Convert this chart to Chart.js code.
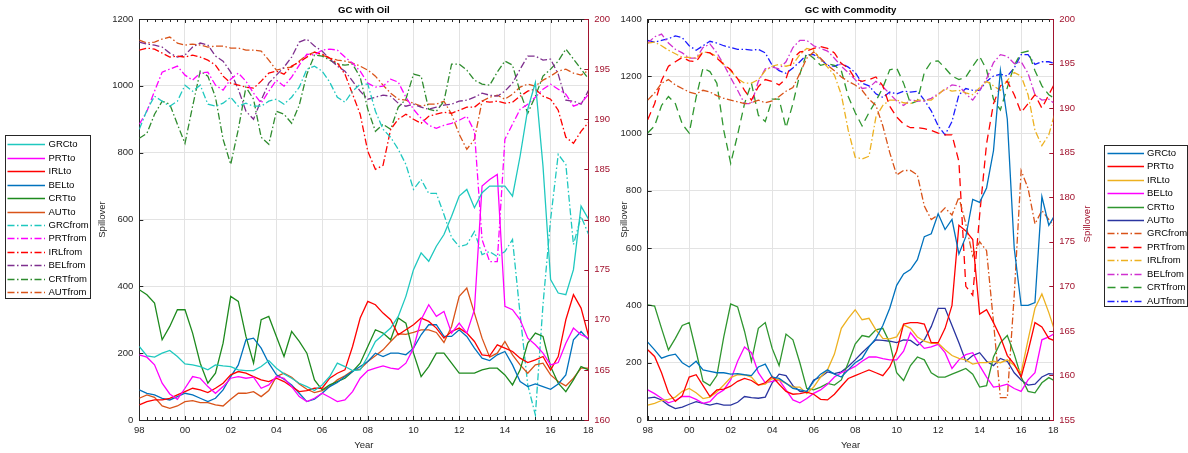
<!DOCTYPE html>
<html>
<head>
<meta charset="utf-8">
<title>GC spillovers</title>
<script src="https://cdn.jsdelivr.net/npm/chart.js@4.4.1/dist/chart.umd.min.js"></script>
<style>
  html, body { margin: 0; padding: 0; background: #fff; }
  #wrap { position: relative; width: 1188px; height: 453px; overflow: hidden; }
  canvas { position: absolute; top: 0; }
  #oil { left: 0; }
  #com { left: 608px; }
</style>
</head>
<body>
<div id="wrap">
  <canvas id="oil" width="620" height="453"></canvas>
  <canvas id="com" width="580" height="453"></canvas>
</div>
<script>
// Sampling dates: one value every four months, Jan 1998 onwards
const years = Array.from({ length: 60 }, (_, i) => 1998 + i / 3);
const yearTicks = [1998, 2000, 2002, 2004, 2006, 2008, 2010, 2012, 2014, 2016];
const series = ['GRC', 'PRT', 'IRL', 'BEL', 'CRT', 'AUT'];

// ---- GC with Oil: "to" spillovers (left axis) ----
const oilGRCto = [220,192,188,200,208,190,168,165,160,150,165,162,160,150,148,148,160,178,155,138,125,110,100,88,105,130,170,160,148,150,190,235,255,275,310,370,450,500,475,520,555,610,670,690,635,680,700,700,700,670,790,930,1010,760,420,380,375,450,640,600];
const oilPRTto = [195,188,165,110,78,62,95,130,125,100,80,100,125,130,125,128,95,105,130,125,100,70,55,65,80,68,55,60,85,125,148,155,162,155,152,170,215,300,345,310,325,260,290,260,330,700,720,735,340,330,300,245,225,200,165,172,230,275,255,245];
const oilIRLto = [45,55,60,60,65,75,85,95,90,82,95,110,135,145,140,130,120,115,125,115,100,85,88,95,95,125,140,150,220,305,355,345,320,300,255,270,285,305,295,275,245,265,275,260,235,195,192,225,215,205,185,172,180,190,150,190,300,375,335,250];
const oilBELto = [90,80,75,65,60,70,80,75,65,55,65,90,130,165,240,245,215,170,135,122,105,80,55,62,80,100,112,130,145,160,175,200,190,200,200,195,215,255,285,285,250,250,270,250,215,185,178,195,205,165,115,100,108,100,92,108,135,240,265,240];
const oilCRTto = [390,375,350,240,280,330,330,260,170,110,140,230,370,355,250,170,300,310,250,190,265,235,200,120,90,105,115,125,145,170,220,270,260,240,305,290,200,130,160,200,200,170,140,140,140,150,155,155,135,105,150,230,260,250,160,110,85,120,160,150];
const oilAUTto = [65,75,68,42,35,42,55,58,52,52,45,42,62,80,80,85,70,88,130,140,128,108,92,82,88,100,120,132,148,152,175,192,210,235,258,256,262,270,270,262,232,280,370,395,320,245,188,200,235,195,165,140,165,170,135,115,102,125,155,155];

// ---- GC with Oil: "from" spillovers (right axis) ----
const oilGRCfrom = [189.0,190.9,192.3,191.8,191.3,191.8,193.4,192.8,193.4,191.5,191.3,191.6,192.2,191.3,191.6,191.3,191.3,191.8,192.0,191.5,192.2,193.2,195.0,195.3,194.8,193.7,192.2,191.7,192.8,193.5,193.5,190.8,189.0,188.2,187.0,185.5,183.0,184.0,182.6,182.6,180.5,178.2,177.3,177.5,178.8,176.5,176.8,176.3,176.8,178.0,170.5,163.5,160.5,171.5,180.0,186.5,185.5,177.5,180.3,178.5];
const oilPRTfrom = [189.5,190.8,192.8,194.7,195.0,195.3,194.4,193.9,194.6,194.7,193.4,192.9,194.0,194.6,193.8,192.6,191.6,192.8,193.9,193.3,194.2,195.4,196.5,196.4,196.9,197.0,196.9,196.2,195.6,194.8,193.6,193.2,193.3,194.0,193.7,192.2,191.0,190.1,189.4,189.1,189.4,189.6,189.9,190.3,188.8,178.0,175.8,175.8,188.0,189.5,191.0,191.5,192.2,193.0,193.5,193.0,192.5,191.3,191.6,192.5];
const oilIRLfrom = [196.9,197.1,197.0,196.6,196.2,196.3,196.2,196.4,196.2,195.9,195.4,194.3,193.6,193.4,193.2,193.1,193.8,194.6,194.8,194.5,195.3,195.7,196.2,196.7,196.5,196.1,195.6,194.5,192.5,190.5,186.8,185.0,185.4,189.0,190.0,190.5,190.0,189.6,190.3,190.5,190.7,190.6,190.9,191.2,191.2,191.8,191.7,191.8,191.6,191.7,192.3,192.8,193.0,192.3,192.0,190.9,188.2,187.6,188.8,189.7];
const oilBELfrom = [197.7,197.5,197.4,197.2,196.6,196.2,196.4,197.2,197.6,197.4,196.3,195.8,194.7,193.0,190.8,190.0,191.9,193.6,194.4,195.2,196.2,197.7,198.0,197.3,196.8,196.0,195.3,194.8,193.8,192.8,192.0,192.2,192.4,192.3,191.6,191.3,191.5,191.2,191.0,191.2,191.4,191.5,191.8,191.9,192.2,192.6,192.4,192.3,192.8,193.6,195.0,196.3,196.3,195.9,196.0,194.5,191.9,191.8,191.5,192.9];
const oilCRTfrom = [188.1,188.6,190.5,191.8,191.5,189.5,187.6,191.3,194.8,194.3,192.2,188.0,185.5,189.0,193.2,192.0,188.2,187.5,190.8,190.5,189.6,191.4,194.5,196.4,196.3,195.9,195.5,195.4,195.5,194.2,191.0,188.8,189.5,189.0,191.2,192.0,194.5,194.3,191.0,190.8,191.8,195.5,195.5,194.9,193.9,193.5,193.4,194.7,195.8,195.4,192.7,190.6,192.3,194.3,195.0,195.8,197.0,196.0,195.0,194.0];
const oilAUTfrom = [197.9,197.6,197.7,198.0,198.2,197.6,197.4,197.5,197.4,197.2,197.3,197.3,197.1,197.1,196.9,196.9,196.8,195.9,194.9,195.1,195.2,195.8,196.4,196.7,196.4,196.1,195.9,195.8,195.6,195.3,194.9,194.3,193.4,192.6,192.0,191.9,191.6,191.3,191.5,191.5,191.8,190.5,188.5,187.0,188.0,191.8,192.2,192.4,192.0,192.5,193.2,193.5,193.3,193.9,194.3,194.8,195.0,194.6,194.4,194.9];

// ---- GC with Commodity: "to" spillovers (left axis) ----
const comGRCto = [272,245,216,225,230,200,185,205,175,170,165,165,160,162,158,155,185,195,150,145,128,110,105,100,135,160,175,160,150,175,200,215,255,285,330,390,470,510,525,560,640,650,720,665,700,580,640,770,760,810,940,1220,1050,600,400,400,410,780,680,720];
const comPRTto = [245,222,165,95,65,85,150,158,120,82,105,108,118,135,145,138,122,130,152,125,100,90,92,97,90,72,70,90,118,145,155,165,175,165,155,185,240,335,340,340,335,270,270,320,400,680,660,630,370,385,340,290,225,195,150,240,340,325,285,275];
const comIRLto = [52,58,68,72,80,100,110,95,75,80,98,122,148,158,158,150,122,125,145,140,128,115,115,92,115,150,175,230,320,355,385,350,355,315,285,283,290,332,320,290,275,268,268,245,225,215,210,195,200,200,205,200,210,190,165,280,390,440,375,300];
const comBELto = [105,92,76,60,68,82,82,72,58,64,90,105,140,205,255,235,165,130,135,140,105,70,60,75,93,105,125,150,165,175,187,205,220,220,214,210,210,240,305,275,250,255,264,235,180,210,228,235,190,150,115,118,125,110,100,140,165,280,290,305];
const comCRTto = [402,398,320,245,285,330,340,240,135,120,155,290,405,395,310,205,320,340,250,190,300,280,200,110,105,115,128,122,140,200,265,295,290,315,320,270,165,138,190,220,210,165,150,150,160,170,180,160,115,120,220,270,295,230,150,100,95,130,148,135];
const comAUTto = [76,80,70,52,40,45,55,64,58,52,58,52,52,62,82,78,76,80,130,160,155,120,100,98,140,150,168,162,168,187,210,235,258,280,278,275,270,280,278,260,280,326,390,390,330,270,205,225,235,205,190,215,205,165,140,122,125,150,162,160];

// ---- GC with Commodity: "from" spillovers (right axis) ----
const comGRCfrom = [190.9,191.7,192.8,193.2,192.6,192.2,191.8,191.6,192.0,191.8,191.4,191.1,190.9,190.7,190.5,190.6,190.9,190.6,190.8,191.3,191.9,192.3,193.9,195.6,196.3,195.6,194.8,194.2,193.5,193.0,192.6,192.0,191.0,190.3,188.0,185.0,182.5,183.0,183.0,182.5,179.0,177.5,178.0,178.8,178.0,180.0,177.0,173.4,175.0,174.0,166.0,157.5,157.5,169.0,183.0,181.0,177.0,178.5,177.5,176.5];
const comPRTfrom = [188.7,190.5,193.1,194.7,195.2,195.7,195.3,195.2,196.3,196.2,195.6,194.9,194.3,193.3,192.0,190.9,192.4,193.2,193.0,192.6,193.3,195.6,196.3,196.4,196.7,196.9,196.7,196.2,195.0,194.5,193.3,193.0,193.2,193.5,192.5,190.2,189.0,188.2,187.8,187.8,187.7,187.5,187.2,187.0,187.0,184.0,170.0,169.0,178.0,186.0,190.5,192.5,193.0,191.5,189.5,190.5,191.5,190.0,191.5,193.0];
const comIRLfrom = [197.3,197.4,197.0,196.5,196.1,195.7,195.7,195.6,196.3,196.2,195.8,194.9,194.2,193.3,192.8,192.8,193.2,194.2,194.7,194.9,194.7,194.9,196.0,196.7,196.5,195.4,194.6,193.7,191.5,187.5,184.5,184.3,184.6,189.0,190.3,190.9,190.9,190.6,190.5,190.9,190.9,190.9,191.5,192.2,191.9,192.0,191.7,191.5,192.3,193.0,192.5,192.0,193.1,194.0,193.6,191.5,187.5,185.8,187.0,189.8];
const comBELfrom = [197.3,198.0,198.3,197.3,196.6,196.2,195.6,195.6,196.8,197.2,196.2,194.9,193.4,192.0,190.5,190.5,193.0,194.4,194.6,194.4,195.2,196.8,197.6,197.6,197.0,196.7,196.4,195.6,194.7,194.0,193.2,192.2,192.3,193.0,192.4,191.6,190.8,190.3,190.9,190.8,190.8,191.1,191.6,192.1,192.6,192.5,191.6,190.9,192.0,193.3,195.1,196.0,195.8,195.0,195.2,193.9,191.5,190.9,191.0,190.4];
const comCRTfrom = [187.2,188.0,190.3,191.3,190.5,188.2,187.2,191.2,194.5,194.1,192.8,187.5,183.8,187.0,190.5,192.8,189.2,188.5,191.0,191.0,187.8,190.5,193.8,196.2,195.6,194.8,195.0,194.8,194.2,191.3,189.5,188.0,189.5,190.8,192.3,194.3,194.5,192.8,190.5,190.8,194.0,195.2,195.3,194.5,193.6,193.2,193.5,194.7,195.8,194.3,191.0,189.8,192.3,194.8,196.2,196.4,194.2,192.5,191.5,191.0];
const comAUTfrom = [197.6,197.4,197.6,197.8,198.1,197.9,197.0,196.5,197.0,197.5,197.3,197.0,196.8,196.6,196.6,196.5,196.6,196.2,194.8,194.2,193.9,194.5,195.2,196.0,196.0,195.5,194.8,194.7,195.0,194.6,194.0,192.8,192.5,191.6,191.2,191.8,191.6,191.9,191.8,191.9,190.9,189.7,188.0,187.0,188.5,191.5,192.2,192.0,192.0,193.0,193.6,193.8,193.6,194.5,196.0,196.0,194.9,195.2,195.2,195.0];

const FONT = '"Liberation Sans", Arial, Helvetica, sans-serif';
const TXT = '#262626';
const AXIS2 = '#A2142F';
const GRID = '#e3e3e3';
const DASHDOT = [7, 2.5, 1.5, 2.5];
const DASHED = [8, 5];
const SOLID = [];

function line(label, values, color, axis, dash) {
  return {
    label,
    data: values.map((v, i) => ({ x: years[i], y: v })),
    borderColor: color,
    backgroundColor: color,
    borderWidth: 1.3,
    borderDash: dash,
    yAxisID: axis,
    pointRadius: 0,
    pointHoverRadius: 0,
    tension: 0,
    fill: false
  };
}

// axis frame, inward ticks, panel title, boxed legend, right-hand axis title
const panelDecor = {
  id: 'panelDecor',
  afterDatasetsDraw(chart, args, o) {
    const { ctx, chartArea: a, scales } = chart;
    const xs = scales.x, yl = scales.y, yr = scales.y1;
    ctx.save();
    ctx.lineWidth = 1;
    ctx.setLineDash([]);
    // top frame edge
    ctx.strokeStyle = TXT;
    ctx.beginPath();
    ctx.moveTo(a.left, Math.round(a.top) + 0.5);
    ctx.lineTo(a.right, Math.round(a.top) + 0.5);
    ctx.stroke();
    // x ticks every four months (bottom and top edges)
    ctx.beginPath();
    for (let k = 0; ; k++) {
      const v = 1998 + k / 3;
      if (v > xs.max + 1e-6) break;
      const px = Math.round(xs.getPixelForValue(v)) + 0.5;
      const len = (k % 6 === 0) ? 4 : 3;
      ctx.moveTo(px, a.bottom); ctx.lineTo(px, a.bottom - len);
      ctx.moveTo(px, a.top); ctx.lineTo(px, a.top + len);
    }
    // left-axis ticks
    yl.ticks.forEach(t => {
      const py = Math.round(yl.getPixelForValue(t.value)) + 0.5;
      ctx.moveTo(a.left, py); ctx.lineTo(a.left + 4, py);
    });
    ctx.stroke();
    // right-axis ticks
    ctx.strokeStyle = AXIS2;
    ctx.beginPath();
    yr.ticks.forEach(t => {
      const py = Math.round(yr.getPixelForValue(t.value)) + 0.5;
      ctx.moveTo(a.right, py); ctx.lineTo(a.right - 4, py);
    });
    ctx.stroke();
    ctx.restore();
  },
  afterDraw(chart, args, o) {
    const { ctx, chartArea: a } = chart;
    ctx.save();
    // panel title
    ctx.fillStyle = '#000';
    ctx.font = 'bold 9.6px ' + FONT;
    ctx.textAlign = 'center';
    ctx.textBaseline = 'middle';
    ctx.fillText(o.title, (a.left + a.right) / 2, 10.5);
    // right axis title
    if (o.rightTitle) {
      ctx.save();
      ctx.translate(o.rightTitle.x, o.rightTitle.y);
      ctx.rotate(-Math.PI / 2);
      ctx.fillStyle = AXIS2;
      ctx.font = '9.6px ' + FONT;
      ctx.fillText(o.rightTitle.text, 0, 0);
      ctx.restore();
    }
    // legend box
    const L = o.legend;
    ctx.fillStyle = '#fff';
    ctx.fillRect(L.x, L.y, L.w, L.h);
    ctx.strokeStyle = TXT;
    ctx.lineWidth = 1;
    ctx.setLineDash([]);
    ctx.strokeRect(L.x + 0.5, L.y + 0.5, L.w - 1, L.h - 1);
    ctx.font = '9.5px ' + FONT;
    ctx.textAlign = 'left';
    ctx.textBaseline = 'middle';
    chart.data.datasets.forEach((ds, i) => {
      const y = Math.round(L.first + i * L.step) + 0.5;
      ctx.strokeStyle = ds.borderColor;
      ctx.lineWidth = ds.borderWidth;
      ctx.setLineDash(ds.borderDash || []);
      ctx.beginPath();
      ctx.moveTo(L.x0, y);
      ctx.lineTo(L.x1, y);
      ctx.stroke();
      ctx.fillStyle = '#000';
      ctx.fillText(ds.label, L.tx, y);
    });
    ctx.restore();
  }
};

function scaleSet(cfg) {
  const tickFont = { family: FONT, size: 9.5 };
  return {
    x: {
      type: 'linear', min: 1998, max: cfg.xMax,
      afterBuildTicks: s => { s.ticks = yearTicks.concat([cfg.xMax]).map(v => ({ value: v })); },
      afterFit: s => { s.height = 33; },
      ticks: {
        autoSkip: false, maxRotation: 0, padding: 5, color: TXT, font: tickFont,
        callback: v => (v > cfg.xMax - 0.01 ? '18' : String(Math.round(v) % 100).padStart(2, '0'))
      },
      grid: { color: GRID, drawTicks: false },
      border: { color: TXT, width: 1 },
      title: { display: true, text: 'Year', color: TXT, font: tickFont, padding: { top: 0, bottom: 1.5 } }
    },
    y: {
      position: 'left', min: 0, max: cfg.yMax,
      afterFit: s => { s.width = cfg.leftW; },
      ticks: { stepSize: 200, padding: 6, color: TXT, font: tickFont, callback: v => String(v) },
      grid: { color: GRID, drawTicks: false },
      border: { color: TXT, width: 1 },
      title: { display: true, text: 'Spillover', color: TXT, font: tickFont, padding: { top: cfg.leftTitlePad, bottom: 0 } }
    },
    y1: {
      position: 'right', min: cfg.y1Min, max: 200,
      afterFit: s => { s.width = cfg.rightW; },
      ticks: { stepSize: 5, padding: 6, color: AXIS2, font: tickFont, callback: v => String(v) },
      grid: { display: false, drawTicks: false },
      border: { color: AXIS2, width: 1 }
    }
  };
}

function makeChart(id, datasets, cfg) {
  return new Chart(document.getElementById(id), {
    type: 'line',
    data: { datasets },
    options: {
      responsive: false,
      animation: false,
      events: [],
      layout: { padding: cfg.padding },
      plugins: {
        legend: { display: false },
        tooltip: { enabled: false },
        panelDecor: cfg.decor
      },
      scales: scaleSet(cfg)
    },
    plugins: [panelDecor]
  });
}

// GC with Oil
const oilColors = ['#1FC8BF', '#FF00FF', '#FF0000', '#0072BD', '#1E8A1E', '#D95319'];
const oilFromColors = ['#1FC8BF', '#FF00FF', '#FF0000', '#7E2F8E', '#2E8B2E', '#D95319'];
const oilTo = [oilGRCto, oilPRTto, oilIRLto, oilBELto, oilCRTto, oilAUTto];
const oilFrom = [oilGRCfrom, oilPRTfrom, oilIRLfrom, oilBELfrom, oilCRTfrom, oilAUTfrom];
const oilSets = series.map((c, i) => line(c + 'to', oilTo[i], oilColors[i], 'y', SOLID))
  .concat(series.map((c, i) => line(c + 'from', oilFrom[i], oilFromColors[i], 'y1', DASHDOT)));

makeChart('oil', oilSets, {
  xMax: 2017.65, yMax: 1200, y1Min: 160,
  leftW: 44.3, rightW: 31.7, leftTitlePad: 2,
  padding: { left: 95, right: 0, top: 19, bottom: 0 },
  decor: {
    title: 'GC with Oil',
    legend: { x: 5, y: 135, w: 86, h: 164, x0: 7.5, x1: 45, tx: 48.5, first: 144.3, step: 13.45 }
  }
});

// GC with Commodity
const comColors = ['#0072BD', '#FF0000', '#EDB120', '#FF00FF', '#2F962F', '#2B35A0'];
const comFromColors = ['#D95319', '#FF0000', '#EDB120', '#D030D0', '#2F962F', '#1A1AFF'];
const comFromDash = [DASHDOT, DASHED, DASHDOT, DASHDOT, DASHED, DASHDOT];
const comTo = [comGRCto, comPRTto, comIRLto, comBELto, comCRTto, comAUTto];
const comFrom = [comGRCfrom, comPRTfrom, comIRLfrom, comBELfrom, comCRTfrom, comAUTfrom];
const comSets = series.map((c, i) => line(c + 'to', comTo[i], comColors[i], 'y', SOLID))
  .concat(series.map((c, i) => line(c + 'from', comFrom[i], comFromColors[i], 'y1', comFromDash[i])));

makeChart('com', comSets, {
  xMax: 2017.55, yMax: 1400, y1Min: 155,
  leftW: 39.7, rightW: 45, leftTitlePad: 11,
  padding: { left: 0, right: 89.7, top: 19, bottom: 0 },
  decor: {
    title: 'GC with Commodity',
    rightTitle: { text: 'Spillover', x: 479, y: 224 },
    legend: { x: 496, y: 145, w: 84, h: 162, x0: 499.5, x1: 536, tx: 539, first: 152.7, step: 13.45 }
  }
});
</script>
</body>
</html>
